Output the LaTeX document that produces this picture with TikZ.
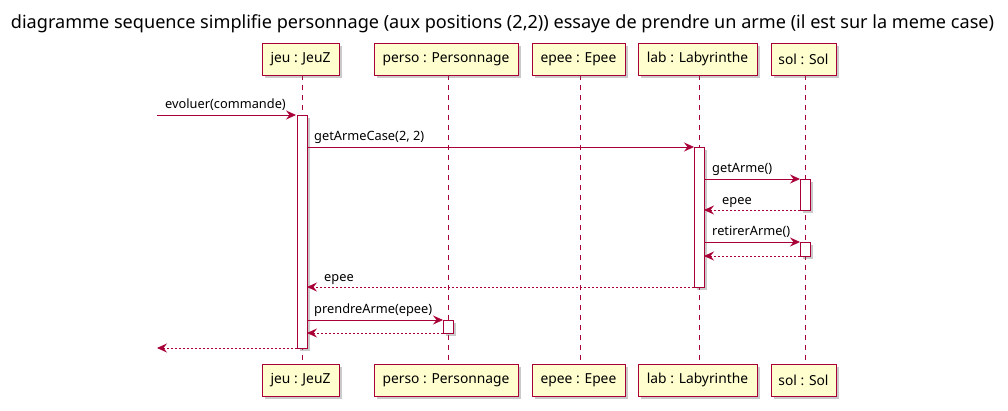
\documentclass[tikz,border=0pt]{standalone}
\usepackage{fontspec}
\setmainfont{Noto Sans}
\usetikzlibrary{arrows.meta,shadows}
\definecolor{umlred}{HTML}{A80036}
\definecolor{umlfill}{HTML}{FEFECE}
\tikzset{
  part/.style={draw=umlred, fill=umlfill, line width=0.9pt, minimum height=32pt, inner sep=0pt,
    font=\fontsize{13.8}{16}\selectfont, drop shadow={shadow xshift=3pt, shadow yshift=-3pt, opacity=0.35, fill=black!60}},
  life/.style={draw=umlred, line width=0.8pt, dash pattern=on 5pt off 5pt},
  act/.style={draw=umlred, fill=white, line width=0.9pt, drop shadow={shadow xshift=3pt, shadow yshift=-3pt, opacity=0.35, fill=black!60}},
  msg/.style={draw=umlred, line width=0.8pt, -{Stealth[length=10pt,width=9pt,inset=3.5pt]}},
  ret/.style={msg, dash pattern=on 2pt off 2pt},
  lbl/.style={font=\fontsize{12.8}{15}\selectfont, inner sep=0pt, anchor=base west},
}
\begin{document}
\begin{tikzpicture}[x=1pt,y=-1pt]
\useasboundingbox (0,0) rectangle (1008,410);
\node[font=\fontsize{18.1}{21}\selectfont, inner sep=0pt] (title) at (502.5,24) {diagramme sequence simplifie personnage (aux positions (2,2)) essaye de prendre un arme (il est sur la meme case)};

% lifelines
\foreach \n/\x in {jeu/302, perso/448, epee/580, lab/699, sol/805}{
  \coordinate (\n t) at (\x,75);
  \coordinate (\n b) at (\x,364);
  \draw[life] (\n t) -- (\n b);
}

% participants top
\node[part, minimum width=77pt] (jeuT) at (300.5,59) {jeu : JeuZ};
\node[part, minimum width=144pt] (persoT) at (446,59) {perso : Personnage};
\node[part, minimum width=93pt] (epeeT) at (578.5,59) {epee : Epee};
\node[part, minimum width=119pt] (labT) at (697.5,59) {lab : Labyrinthe};
\node[part, minimum width=65pt] (solT) at (803.5,59) {sol : Sol};
% participants bottom
\node[part, minimum width=77pt] (jeuB) at (300.5,380) {jeu : JeuZ};
\node[part, minimum width=144pt] (persoB) at (446,380) {perso : Personnage};
\node[part, minimum width=93pt] (epeeB) at (578.5,380) {epee : Epee};
\node[part, minimum width=119pt] (labB) at (697.5,380) {lab : Labyrinthe};
\node[part, minimum width=65pt] (solB) at (803.5,380) {sol : Sol};

% activations
\draw[act] (297,115) rectangle (307,348);
\draw[act] (694,147) rectangle (704,287);
\draw[act] (800,179) rectangle (810,210);
\draw[act] (800,242) rectangle (810,256);
\draw[act] (443,320) rectangle (453,333);

% coordinates
\coordinate (in) at (157,115);
\coordinate (out) at (157,348);
\coordinate (j1) at (296,115);
\coordinate (j2) at (307,147);  \coordinate (l2) at (694,147);
\coordinate (l3) at (704,179);  \coordinate (s3) at (800,179);
\coordinate (s4) at (800,210);  \coordinate (l4) at (704,210);
\coordinate (l5) at (704,242);  \coordinate (s5) at (800,242);
\coordinate (s6) at (800,256);  \coordinate (l6) at (704,256);
\coordinate (l7) at (694,287);  \coordinate (j7) at (307,287);
\coordinate (j8) at (307,320);  \coordinate (p8) at (443,320);
\coordinate (p9) at (443,333);  \coordinate (j9) at (307,333);
\coordinate (j10) at (297,348);

\draw[msg] (in) -- (j1);
\node[lbl] (m1) at (165,108) {evoluer(commande)};
\draw[msg] (j2) -- (l2);
\node[lbl] (m2) at (314,140) {getArmeCase(2, 2)};
\draw[msg] (l3) -- (s3);
\node[lbl] (m3) at (712,172) {getArme()};
\draw[ret] (s4) -- (l4);
\node[lbl] (m4) at (722,204) {epee};
\draw[msg] (l5) -- (s5);
\node[lbl] (m5) at (712,235) {retirerArme()};
\draw[ret] (s6) -- (l6);
\draw[ret] (l7) -- (j7);
\node[lbl] (m7) at (324,281) {epee};
\draw[msg] (j8) -- (p8);
\node[lbl] (m8) at (314,313) {prendreArme(epee)};
\draw[ret] (p9) -- (j9);
\draw[ret] (j10) -- (out);
\end{tikzpicture}
\end{document}
